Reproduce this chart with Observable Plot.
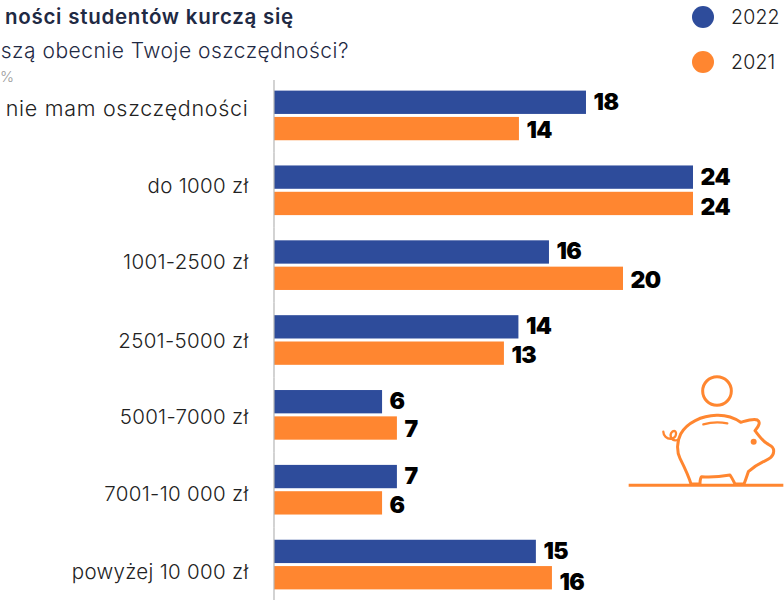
<!DOCTYPE html>
<html><head><meta charset="utf-8">
<script src="https://cdn.jsdelivr.net/npm/d3@7"></script>
<script src="https://cdn.jsdelivr.net/npm/@observablehq/plot@0.6"></script>
<style>
html,body{margin:0;padding:0;background:#fff;overflow:hidden;width:784px;height:600px;font-family:Inter,sans-serif}
#wrap{position:relative;width:784px;height:600px;overflow:hidden}
.h{position:absolute;white-space:nowrap;text-align:right;line-height:24px}
#t1{right:490px;top:5px;font-size:20.5px;font-weight:600;color:#1f2a44;letter-spacing:.75px}
#t2{right:435px;top:39px;font-size:21px;font-weight:300;color:#1f2a44;letter-spacing:.5px}
#t3{left:0;top:65px;font-size:15px;font-weight:300;color:#9a9a9a}
.lg{position:absolute;left:692px;width:22px;height:22px;border-radius:50%}
.lt{position:absolute;left:731px;font-size:19.5px;font-weight:300;color:#222;line-height:24px;letter-spacing:.2px}
#pig{position:absolute;left:620px;top:360px}
g[font-size="21.5"] text{letter-spacing:.7px}
g[font-size="20.5"] text{letter-spacing:.3px}
g[font-weight="900"] text{letter-spacing:-.5px}
</style></head><body><div id="wrap">
<div class="h" id="t1">ności studentów kurczą się</div>
<div class="h" id="t2">szą obecnie Twoje oszczędności?</div>
<div class="h" id="t3">%</div>
<div id="chart"></div>
<div class="lg" style="top:6px;background:#2E4C9B"></div><div class="lt" style="top:5px">2022</div>
<div class="lg" style="top:51px;background:#FF8630"></div><div class="lt" style="top:50px">2021</div>
<svg id="pig" width="164" height="140" viewBox="0 0 492 420" fill="none" stroke="#FF8630" stroke-width="9" stroke-linejoin="round" stroke-linecap="round">
<circle cx="291" cy="93" r="43"/>
<path d="M26,376H490" stroke-linecap="butt"/>
<path d="M213,372C205,345 190,315 180,295C170,275 170,245 182,222C200,188 245,167 290,166C320,165 345,175 362,187C380,182 400,175 412,180C422,186 418,196 405,212C415,225 425,240 440,250C452,258 462,260 461,275C460,292 445,298 430,305C415,312 400,322 385,335C380,350 376,362 372,372H345C340,362 335,352 330,345C300,350 270,352 245,350C240,355 240,365 240,372Z"/>
<path d="M250,193Q285,183 322,190" stroke-width="7"/>
<circle cx="401" cy="245" r="9" fill="#FF8630" stroke="none"/>
<path d="M172,240C155,245 145,225 158,214C172,208 172,232 155,236C140,238 130,226 130,215" stroke-width="7"/>
</svg>
</div>
<script>
const categories = ["nie mam oszczędności","do 1000 zł","1001-2500 zł","2501-5000 zł","5001-7000 zł","7001-10 000 zł","powyżej 10 000 zł"];
const values2022 = [17.87,24,15.75,14,6.19,7.04,15];
const values2021 = [14.03,24,19.99,13.17,7.04,6.19,15.92];
const years = ["2022","2021"];
const colors = ["#2E4C9B","#FF8630"];

const rows = categories.flatMap((c,i)=>[
  {cat:c,year:"2022",v:values2022[i]},
  {cat:c,year:"2021",v:values2021[i]}
]);
const labelShift = [-6.5,-4,-3,1,2,4.5,7];
const valueShift2021 = [2,4,2,2,1,2,4];
const labelColor = "#222";
const valueFont = {textAnchor:"start",dx:7,fontSize:23,fontWeight:900,fill:"#000"};
const fmt = d3.format(".0f");

const plot = Plot.plot({
  width:784,height:602,
  marginLeft:274,marginRight:91,marginTop:78,marginBottom:0,
  style:{fontFamily:"Inter, sans-serif",background:"transparent",overflow:"visible"},
  x:{domain:[0,24],axis:null},
  y:{domain:years,axis:null,paddingInner:0.114,paddingOuter:0.479,round:false},
  fy:{domain:categories,axis:null,padding:0,round:false},
  color:{domain:years,range:colors},
  marks:[
    Plot.barX(rows,{x:"v",y:"year",fy:"cat",fill:"year"}),
    Plot.ruleX(categories.slice(0,1),{x:()=>0,fy:d=>d,insetTop:2,stroke:"#b5b5b5",strokeWidth:1.2,dx:-0.5}),
    Plot.ruleX(categories.slice(1),{x:()=>0,fy:d=>d,stroke:"#b5b5b5",strokeWidth:1.2,dx:-0.5}),
    Plot.text(rows.filter(d=>d.year==="2022"),{x:"v",y:"year",fy:"cat",text:d=>fmt(d.v),dy:-0.5,...valueFont}),
    ...categories.map((c,i)=>Plot.text(rows.filter(d=>d.year==="2021"&&d.cat===c),{x:"v",y:"year",fy:"cat",text:d=>fmt(d.v),dy:valueShift2021[i],...valueFont})),
    ...categories.map((c,i)=>Plot.text([c],{x:()=>0,fy:d=>d,text:d=>d,textAnchor:"end",dx:-26,dy:labelShift[i],fontSize:i===0?21.5:20.5,fontWeight:300,fill:labelColor}))
  ]
});
document.getElementById("chart").appendChild(plot);
</script></body></html>
